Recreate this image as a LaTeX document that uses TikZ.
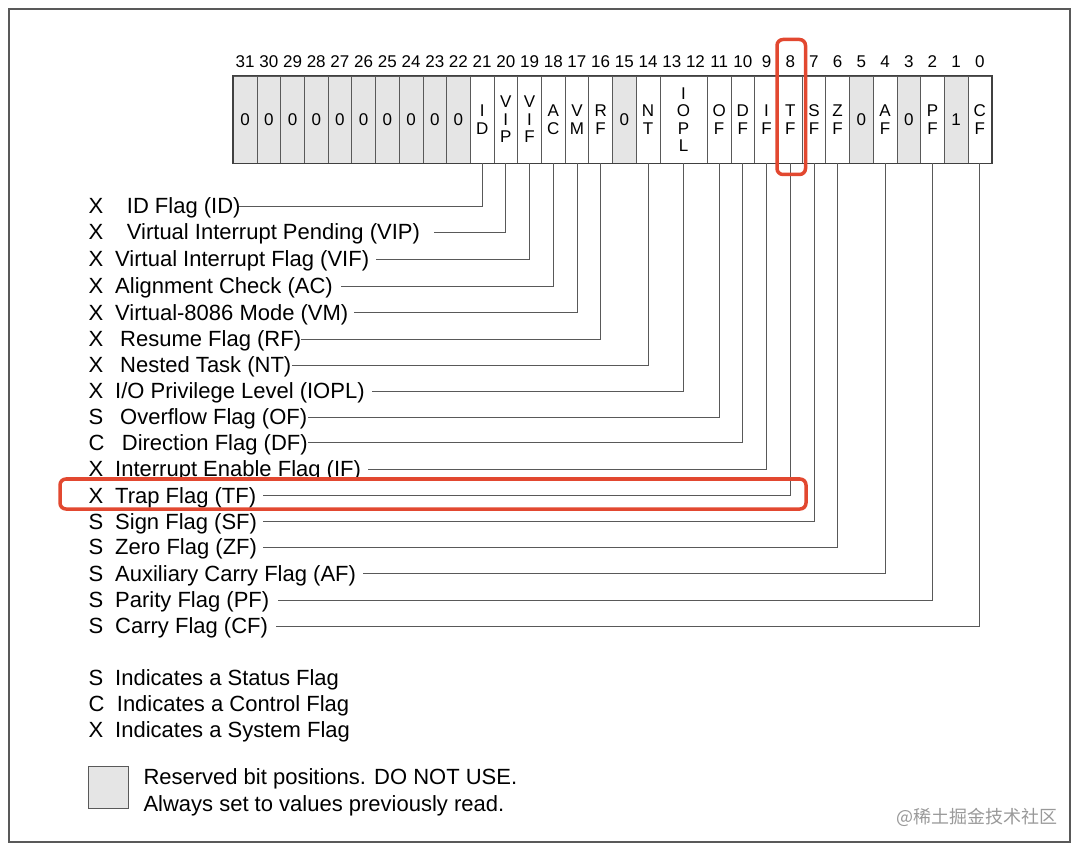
\documentclass[tikz,border=0pt]{standalone}
\usepackage{fontspec}
\setmainfont{Liberation Sans}
\newfontfamily\cjkfont{Noto Sans CJK SC}
\definecolor{hlred}{RGB}{226,72,48}
\definecolor{resv}{RGB}{229,229,229}
\begin{document}
\begin{tikzpicture}[x=1pt,y=-1pt,
  cell/.style={draw=black!65,line width=0.7pt,minimum width=23.7pt,minimum height=87pt,
    inner sep=0pt,align=center,font=\fontsize{17}{17.5}\selectfont},
  num/.style={inner sep=0pt,font=\fontsize{17}{17}\selectfont},
  lbl/.style={inner sep=0pt,anchor=west,text height=15.75pt,text depth=0pt,
    font=\fontsize{22}{26}\selectfont},
  conn/.style={draw=black!65,line width=0.9pt},
  redbox/.style={draw=hlred,line width=3.5pt,rounded corners=6pt},
  frame/.style={draw=black!65,line width=2pt}]
\useasboundingbox (0,0) rectangle (1080,850);
\draw[frame] (8.5,9) rectangle (1070,842);

% register cells
\foreach \b/\t/\f in {31/0/resv,30/0/resv,29/0/resv,28/0/resv,27/0/resv,26/0/resv,
  25/0/resv,24/0/resv,23/0/resv,22/0/resv,21/{I\\D}/white,20/{V\\I\\P}/white,
  19/{V\\I\\F}/white,18/{A\\C}/white,17/{V\\M}/white,16/{R\\F}/white,15/0/resv,
  14/{N\\T}/white,11/{O\\F}/white,10/{D\\F}/white,9/{I\\F}/white,8/{T\\F}/white,
  7/{S\\F}/white,6/{Z\\F}/white,5/0/resv,4/{A\\F}/white,3/0/resv,2/{P\\F}/white,
  1/1/resv,0/{C\\F}/white}
  \node[cell,fill=\f] (b\b) at ({233.3+(31.5-\b)*23.7},119.5) {\t};
\node[cell,fill=white,minimum width=47.4pt] (b13) at (683.6,119.5) {I\\O\\P\\L};
\draw[line width=1.4pt,draw=black!75] (b31.north west) rectangle (b0.south east);

% bit numbers
\foreach \b in {0,...,31}
  \node[num] (h\b) at ({233.3+(31.5-\b)*23.7},62) {\b};

% flag labels and connectors
\foreach \i/\y/\L/\b/\nx/\nm/\g in {
  0/206/X/21/126.7/{ID Flag (ID)}/-2,
  1/232/X/20/126.7/{Virtual Interrupt Pending (VIP)}/14,
  2/259/X/19/115/{Virtual Interrupt Flag (VIF)}/7,
  3/286/X/18/115/{Alignment Check (AC)}/8,
  4/312.5/X/17/115/{Virtual-8086 Mode (VM)}/5,
  5/339/X/16/120/{Resume Flag (RF)}/0,
  6/365/X/14/120/{Nested Task (NT)}/0,
  7/391/X/13/115/{I/O Privilege Level (IOPL)}/7,
  8/417/S/11/120/{Overflow Flag (OF)}/1,
  9/442.5/C/10/121.7/{Direction Flag (DF)}/0,
  10/469/X/9/115/{Interrupt Enable Flag (IF)}/7,
  11/495.5/X/8/115/{Trap Flag (TF)}/7,
  12/521.5/S/7/115/{Sign Flag (SF)}/6,
  13/547/S/6/115/{Zero Flag (ZF)}/6,
  14/573.5/S/4/115/{Auxiliary Carry Flag (AF)}/7,
  15/600/S/2/115/{Parity Flag (PF)}/9,
  16/626/S/0/115/{Carry Flag (CF)}/8}
{
  \node[lbl] (l\i) at (88.3,\y) {\L};
  \node[lbl] (n\i) at (\nx,\y) {\nm};
  \draw[conn] (b\b.south) |- ([xshift=\g pt]n\i.east);
}

% legend
\node[lbl] (ls) at (88.3,678) {S};
\node[lbl] (lsn) at (115,678) {Indicates a Status Flag};
\node[lbl] (lc) at (88.3,703.5) {C};
\node[lbl] (lcn) at (116.7,703.5) {Indicates a Control Flag};
\node[lbl] (lx) at (88.3,729.5) {X};
\node[lbl] (lxn) at (115,729.5) {Indicates a System Flag};
\node[draw=black!65,fill=resv,line width=1pt,minimum width=40pt,minimum height=42pt,inner sep=0pt] (rbox) at (108,787.5) {};
\node[lbl] (r1) at (143.3,776.7) {Reserved bit positions. DO NOT USE.};
\node[lbl] (r2) at (143.3,803.3) {Always set to values previously read.};

% highlights
\draw[redbox] (777,39.5) rectangle (805.5,174.5);
\draw[redbox] (60,479) rectangle (806,509);

% watermark
\node[anchor=east,inner sep=0pt,text=black!40,font=\cjkfont\fontsize{18}{20}\selectfont] (wm) at (1058,817) {@稀土掘金技术社区};
\end{tikzpicture}
\end{document}
